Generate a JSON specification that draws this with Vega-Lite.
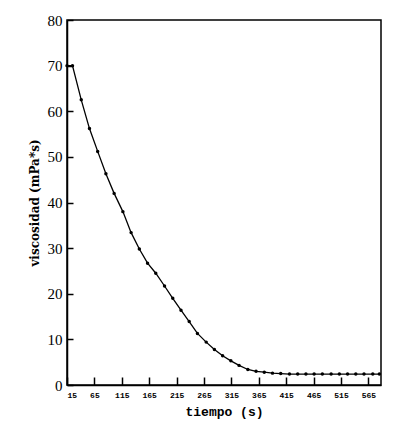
{
  "$schema": "https://vega.github.io/schema/vega-lite/v6.json",
  "autosize": "none",
  "width": 314,
  "height": 365,
  "padding": {"left": 67, "top": 20, "right": 18, "bottom": 42},
  "background": "white",
  "config": {
    "view": {"stroke": "black", "strokeWidth": 1.5},
    "axis": {"domainColor": "black", "labelColor": "black", "titleColor": "black", "grid": false, "domainWidth": 1.5}
  },
  "data": {"values": [
    {"t": 15, "v": 70},
    {"t": 25, "v": 70},
    {"t": 41, "v": 62.5},
    {"t": 56, "v": 56.2},
    {"t": 71, "v": 51.2},
    {"t": 86, "v": 46.3},
    {"t": 101, "v": 42.0},
    {"t": 117, "v": 38.0},
    {"t": 132, "v": 33.4},
    {"t": 147, "v": 29.8},
    {"t": 162, "v": 26.7},
    {"t": 177, "v": 24.5},
    {"t": 193, "v": 21.7},
    {"t": 208, "v": 19.0},
    {"t": 223, "v": 16.4},
    {"t": 238, "v": 13.9},
    {"t": 253, "v": 11.3},
    {"t": 269, "v": 9.4},
    {"t": 284, "v": 7.8},
    {"t": 299, "v": 6.4},
    {"t": 314, "v": 5.3},
    {"t": 329, "v": 4.3},
    {"t": 345, "v": 3.4},
    {"t": 360, "v": 3.0},
    {"t": 375, "v": 2.8},
    {"t": 390, "v": 2.6},
    {"t": 405, "v": 2.5},
    {"t": 421, "v": 2.4},
    {"t": 436, "v": 2.4},
    {"t": 451, "v": 2.4},
    {"t": 466, "v": 2.4},
    {"t": 481, "v": 2.4},
    {"t": 497, "v": 2.4},
    {"t": 512, "v": 2.4},
    {"t": 527, "v": 2.4},
    {"t": 542, "v": 2.4},
    {"t": 557, "v": 2.4},
    {"t": 573, "v": 2.4},
    {"t": 585, "v": 2.4}
  ]},
  "encoding": {
    "x": {"field": "t", "type": "quantitative",
      "scale": {"domain": [15, 588], "nice": false, "zero": false},
      "axis": {"values": [15, 65, 115, 165, 215, 265, 315, 365, 415, 465, 515, 565], "ticks": true, "tickColor": "black", "tickWidth": 1.5, "tickOpacity": 1, "tickSize": -8, "labelFont": "Liberation Mono", "labelFontWeight": "bold", "labelFontSize": 8, "labelPadding": 14, "title": "tiempo (s)", "titleFont": "Liberation Mono", "titleFontWeight": "bold", "titleFontSize": 13, "titlePadding": 6}},
    "y": {"field": "v", "type": "quantitative",
      "scale": {"domain": [0, 80], "nice": false},
      "axis": {"tickCount": 8, "ticks": true, "tickColor": "black", "tickWidth": 1.5, "tickOpacity": 1, "tickSize": -6, "labelFont": "Liberation Serif", "labelFontSize": 15, "labelPadding": 11, "title": "viscosidad (mPa*s)", "titleFont": "DejaVu Serif", "titleFontWeight": "bold", "titleFontSize": 12, "titlePadding": 6}}
  },
  "layer": [
    {"mark": {"type": "line", "color": "black", "strokeWidth": 1.3}},
    {"mark": {"type": "point", "filled": true, "color": "black", "size": 12, "opacity": 1}}
  ]
}
